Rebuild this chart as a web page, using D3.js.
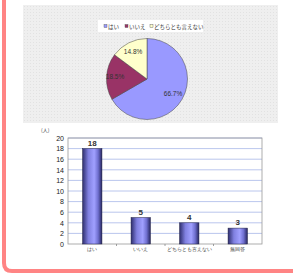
<!DOCTYPE html>
<html>
<head>
<meta charset="utf-8">
<script src="https://cdn.jsdelivr.net/npm/d3@7"></script>
<style>
  body { margin: 0; background: #fff; }
  svg { display: block; font-family: "Noto Sans CJK JP", "Noto Sans", sans-serif; }
</style>
</head>
<body>
<div id="vis"></div>
<script>
// pie data
var pieCategories = ['はい', 'いいえ', 'どちらとも言えない'];
var pieValues = [18, 5, 4];
var pieLabels = ['66.7%', '18.5%', '14.8%'];
var pieColors = ['#9999ff', '#993366', '#ffffcc'];

// bar data
var barCategories = ['はい', 'いいえ', 'どちらとも言えない', '無回答'];
var barValues = [18, 5, 4, 3];
var yTicks = [0, 2, 4, 6, 8, 10, 12, 14, 16, 18, 20];

var width = 293, height = 278;

var svg = d3.select('#vis').append('svg')
  .attr('width', width)
  .attr('height', height);

var defs = svg.append('defs');

// dotted grey background for the pie panel
var pat = defs.append('pattern')
  .attr('id', 'dots')
  .attr('width', 3).attr('height', 3)
  .attr('patternUnits', 'userSpaceOnUse');
pat.append('rect').attr('width', 3).attr('height', 3).attr('fill', '#efefef');
pat.append('rect').attr('width', 1).attr('height', 1).attr('fill', '#e2e2e2');

// bar gradient
var grad = defs.append('linearGradient')
  .attr('id', 'barGrad')
  .attr('x1', '0%').attr('x2', '100%').attr('y1', '0%').attr('y2', '0%');
[[0, '#2e2e6e'], [0.3, '#8080e0'], [0.6, '#a0a0ff'], [0.8, '#7070d0'], [1, '#262660']]
  .forEach(function (s) {
    grad.append('stop').attr('offset', s[0]).attr('stop-color', s[1]);
  });

// pink frame (top and right run off the page)
svg.append('path')
  .attr('d', 'M4,-10 L4,263 Q4,271 12,271 L300,271')
  .attr('fill', 'none')
  .attr('stroke', '#ff8484')
  .attr('stroke-width', 4);

/* ---------- pie panel ---------- */
svg.append('rect')
  .attr('x', 23).attr('y', 5)
  .attr('width', 255).attr('height', 118)
  .attr('fill', 'url(#dots)');

// legend
var legend = svg.append('g');
legend.append('rect')
  .attr('x', 98).attr('y', 20)
  .attr('width', 105).attr('height', 12)
  .attr('fill', '#fff');
var legX = [104, 125, 150];
pieCategories.forEach(function (c, i) {
  legend.append('rect')
    .attr('x', legX[i]).attr('y', 24.5)
    .attr('width', 3).attr('height', 3)
    .attr('fill', pieColors[i])
    .attr('stroke', '#555').attr('stroke-width', 0.4);
  legend.append('text')
    .attr('x', legX[i] + 4).attr('y', 28.5)
    .attr('font-size', 5.5)
    .attr('fill', '#333')
    .text(c);
});

var pie = d3.pie().sort(null).value(function (d) { return d; });
var arc = d3.arc().innerRadius(0).outerRadius(40.5);
var pieG = svg.append('g').attr('transform', 'translate(147,79)');
var arcs = pie(pieValues);
pieG.selectAll('path')
  .data(arcs)
  .enter().append('path')
  .attr('d', arc)
  .attr('fill', function (d, i) { return pieColors[i]; })
  .attr('stroke', '#444')
  .attr('stroke-width', 0.5);

var labelR = [30, 32, 31];
pieG.selectAll('text')
  .data(arcs)
  .enter().append('text')
  .attr('transform', function (d, i) {
    var c = d3.arc().innerRadius(labelR[i]).outerRadius(labelR[i]).centroid(d);
    return 'translate(' + c + ')';
  })
  .attr('text-anchor', 'middle')
  .attr('dy', '0.35em')
  .attr('font-size', 6.5)
  .attr('font-family', 'Arial, "Liberation Sans", sans-serif')
  .attr('fill', '#333')
  .text(function (d, i) { return pieLabels[i]; });

/* ---------- bar chart ---------- */
var plot = { left: 68, right: 262, top: 138, bottom: 244 };

var x = d3.scaleBand()
  .domain(barCategories)
  .range([plot.left, plot.right])
  .paddingInner(0.6)
  .paddingOuter(0.3);

var y = d3.scaleLinear()
  .domain([0, 20])
  .range([plot.bottom, plot.top]);

var bar = svg.append('g');

// gridlines
bar.selectAll('line.grid')
  .data(yTicks.slice(1))
  .enter().append('line')
  .attr('class', 'grid')
  .attr('x1', plot.left).attr('x2', plot.right)
  .attr('y1', function (d) { return y(d); })
  .attr('y2', function (d) { return y(d); })
  .attr('stroke', '#a8b8e8')
  .attr('stroke-width', 0.8);

// plot frame
bar.append('rect')
  .attr('x', plot.left).attr('y', plot.top)
  .attr('width', plot.right - plot.left)
  .attr('height', plot.bottom - plot.top)
  .attr('fill', 'none')
  .attr('stroke', '#999')
  .attr('stroke-width', 0.8);

// y axis
var yAxis = d3.axisLeft(y).tickValues(yTicks).tickSize(0).tickPadding(4);
var yG = bar.append('g')
  .attr('transform', 'translate(' + plot.left + ',0)')
  .call(yAxis);
yG.select('.domain').remove();
yG.selectAll('text')
  .attr('font-size', 7)
  .attr('font-family', 'Arial, "Liberation Sans", sans-serif')
  .attr('fill', '#222');

// x axis
var xAxis = d3.axisBottom(x).tickSize(0).tickPadding(3);
var xG = bar.append('g')
  .attr('transform', 'translate(0,' + plot.bottom + ')')
  .call(xAxis);
xG.select('.domain').remove();
xG.selectAll('text')
  .attr('font-size', 5)
  .attr('fill', '#333');

// category separators
var step = x.step();
bar.selectAll('line.sep')
  .data(barCategories.slice(1))
  .enter().append('line')
  .attr('class', 'sep')
  .attr('x1', function (d) { return x(d) - (step - x.bandwidth()) / 2; })
  .attr('x2', function (d) { return x(d) - (step - x.bandwidth()) / 2; })
  .attr('y1', plot.bottom).attr('y2', plot.bottom + 2)
  .attr('stroke', '#888').attr('stroke-width', 0.8);

// bars
bar.selectAll('rect.bar')
  .data(barValues)
  .enter().append('rect')
  .attr('class', 'bar')
  .attr('x', function (d, i) { return x(barCategories[i]); })
  .attr('y', function (d) { return y(d); })
  .attr('width', x.bandwidth())
  .attr('height', function (d) { return y(0) - y(d); })
  .attr('fill', 'url(#barGrad)')
  .attr('stroke', '#222244')
  .attr('stroke-width', 0.5);

bar.selectAll('text.val')
  .data(barValues)
  .enter().append('text')
  .attr('class', 'val')
  .attr('x', function (d, i) { return x(barCategories[i]) + x.bandwidth() / 2; })
  .attr('y', function (d) { return y(d) - 3; })
  .attr('text-anchor', 'middle')
  .attr('font-size', 8)
  .attr('font-weight', 'bold')
  .attr('font-family', 'Arial, "Liberation Sans", sans-serif')
  .attr('fill', '#333')
  .text(function (d) { return d; });

// unit
bar.append('text')
  .attr('x', 41).attr('y', 132)
  .attr('font-size', 5)
  .attr('fill', '#444')
  .text('(人)');
</script>
</body>
</html>
